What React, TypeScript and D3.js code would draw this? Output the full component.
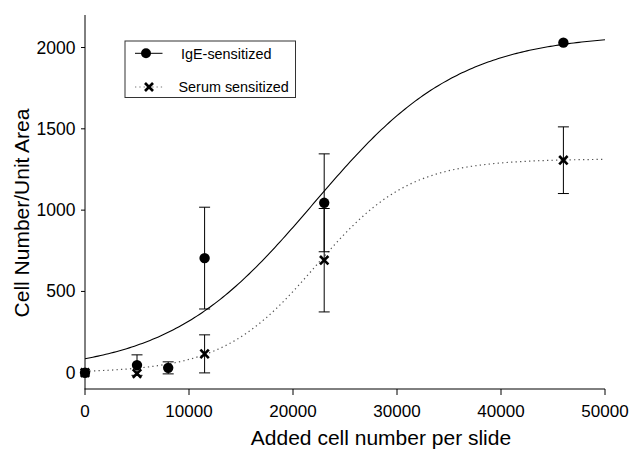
import React from "react";
import * as d3 from "d3";

// Added cell number per slide
const cellsAdded = [0, 5000, 8000, 11500, 23000, 46000];
const cellsSerum = [0, 5000, 11500, 23000, 46000];

// IgE-sensitized: mean and error
const igeMean = [0, 47, 30, 705, 1045, 2030];
const igeErr = [0, 63, 37, 313, 301, 0];

// Serum sensitized: mean and error
const serumMean = [0, -5, 116, 692, 1307];
const serumErr = [0, 0, 117, 318, 205];

// Sigmoid fit parameters: y = a / (1 + exp(-(x - x0) / b))
const igeFit = { a: 2085, x0: 22000, b: 7000 };
const serumFit = { a: 1315, x0: 22200, b: 4500 };

const xTicks = [0, 10000, 20000, 30000, 40000, 50000];
const yTicks = [0, 500, 1000, 1500, 2000];

const W = 631;
const H = 449;

const sigmoid = (p: { a: number; x0: number; b: number }) => (x: number) =>
  p.a / (1 + Math.exp(-(x - p.x0) / p.b));

export default function App() {
  const x = d3.scaleLinear().domain([0, 50000]).range([85, 605]);
  const y = d3.scaleLinear().domain([-100, 2200]).range([389, 15]);

  const xs = d3.range(0, 50001, 250);
  const line = d3
    .line<[number, number]>()
    .x((d) => x(d[0]))
    .y((d) => y(d[1]));
  const igeCurve = line(xs.map((v) => [v, sigmoid(igeFit)(v)] as [number, number]));
  const serumCurve = line(xs.map((v) => [v, sigmoid(serumFit)(v)] as [number, number]));

  const font = "'Liberation Sans', Arial, sans-serif";
  const cap = 5.5;

  const errBar = (cx: number, m: number, e: number, key: string) =>
    e > 0 ? (
      <g key={key} stroke="#000" strokeWidth={1}>
        <line x1={cx} x2={cx} y1={y(m + e)} y2={y(m - e)} />
        <line x1={cx - cap} x2={cx + cap} y1={y(m + e)} y2={y(m + e)} />
        <line x1={cx - cap} x2={cx + cap} y1={y(m - e)} y2={y(m - e)} />
      </g>
    ) : null;

  const cross = (cx: number, cy: number, key: string, s = 4.2) => (
    <g key={key} stroke="#000" strokeWidth={2.6}>
      <line x1={cx - s} y1={cy - s} x2={cx + s} y2={cy + s} />
      <line x1={cx - s} y1={cy + s} x2={cx + s} y2={cy - s} />
    </g>
  );

  return (
    <svg
      width={W}
      height={H}
      style={{ position: "absolute", left: 0, top: 0, background: "#fff" }}
      fontFamily={font}
    >
      <rect width={W} height={H} fill="#fff" />

      {/* fitted curves */}
      <path d={igeCurve ?? ""} fill="none" stroke="#000" strokeWidth={1.1} />
      <path
        d={serumCurve ?? ""}
        fill="none"
        stroke="#555"
        strokeWidth={1.2}
        strokeDasharray="1.3,3.2"
      />

      {/* error bars */}
      {cellsSerum.map((c, i) => errBar(x(c), serumMean[i], serumErr[i], "se" + i))}
      {cellsAdded.map((c, i) => errBar(x(c), igeMean[i], igeErr[i], "ie" + i))}

      {/* markers */}
      {cellsSerum.map((c, i) => cross(x(c), y(serumMean[i]), "sm" + i))}
      {cellsAdded.map((c, i) => (
        <circle key={"im" + i} cx={x(c)} cy={y(igeMean[i])} r={5.2} fill="#000" />
      ))}

      {/* axes */}
      <line x1={85} x2={85} y1={15} y2={389} stroke="#000" strokeWidth={1} />
      <line x1={84.5} x2={605} y1={389} y2={389} stroke="#000" strokeWidth={1} />
      {xTicks.map((t) => (
        <g key={"xt" + t}>
          <line x1={x(t)} x2={x(t)} y1={389} y2={395} stroke="#000" />
          <text x={x(t)} y={416.7} fontSize={17} textAnchor="middle" fill="#000">
            {t}
          </text>
        </g>
      ))}
      {yTicks.map((t) => (
        <g key={"yt" + t}>
          <line x1={81} x2={85} y1={y(t)} y2={y(t)} stroke="#000" />
          <text
            x={75.5}
            y={y(t) + 6}
            fontSize={17.5}
            textAnchor="end"
            fill="#000"
          >
            {t}
          </text>
        </g>
      ))}

      {/* axis titles */}
      <text x={381} y={445} fontSize={21} textAnchor="middle" fill="#000">
        Added cell number per slide
      </text>
      <text
        transform="translate(28.5,213) rotate(-90)"
        fontSize={21}
        textAnchor="middle"
        fill="#000"
      >
        Cell Number/Unit Area
      </text>

      {/* legend */}
      <rect x={125} y={41} width={170.5} height={56.5} fill="#fff" stroke="#333" strokeWidth={1} />
      <line x1={135} x2={162.5} y1={53.3} y2={53.3} stroke="#000" strokeWidth={1} />
      <circle cx={146} cy={53.3} r={5} fill="#000" />
      <text x={181} y={58.5} fontSize={14.4} fill="#000">
        IgE-sensitized
      </text>
      <line
        x1={135}
        x2={162.5}
        y1={87}
        y2={87}
        stroke="#777"
        strokeWidth={1.1}
        strokeDasharray="1.3,3"
      />
      {cross(149, 87, "lg", 4)}
      <text x={178.5} y={92.2} fontSize={14.4} fill="#000">
        Serum sensitized
      </text>
    </svg>
  );
}
